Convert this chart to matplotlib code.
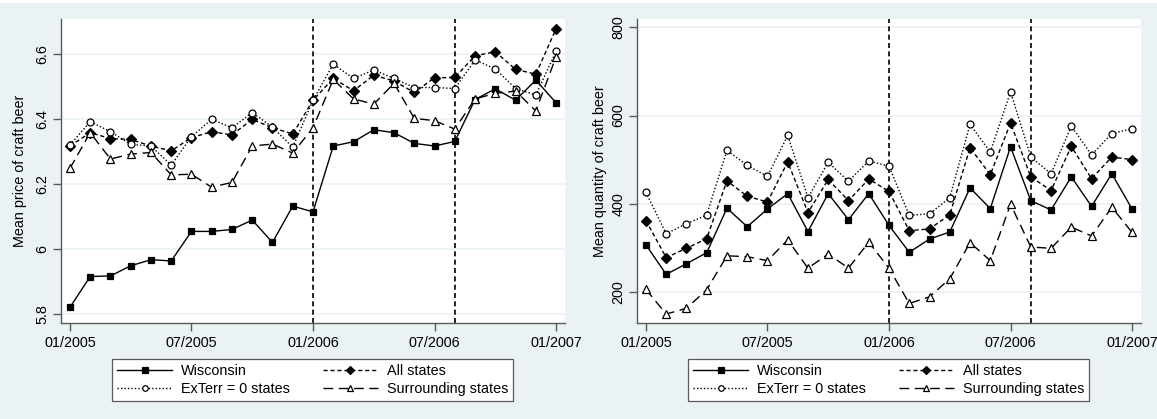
import matplotlib
matplotlib.use("Agg")
import matplotlib.pyplot as plt
from matplotlib.patches import Rectangle
from matplotlib.lines import Line2D

plt.rcParams["font.family"] = ["Liberation Sans", "DejaVu Sans"]

# meses de 01/2005 a 01/2007 (indice 0..24)
months = list(range(25))
tick_pos = [0, 6, 12, 18, 24]
tick_labels = ["01/2005", "07/2005", "01/2006", "07/2006", "01/2007"]
event_months = [12, 19]

# preço médio
price_wi = [5.82, 5.915, 5.917, 5.948, 5.967, 5.963, 6.054, 6.054, 6.06, 6.089,
            6.02, 6.132, 6.114, 6.317, 6.33, 6.367, 6.358, 6.325, 6.317, 6.331,
            6.46, 6.493, 6.458, 6.52, 6.45]
price_all = [6.317, 6.358, 6.34, 6.337, 6.317, 6.302, 6.343, 6.361, 6.351, 6.399,
             6.373, 6.354, 6.458, 6.525, 6.487, 6.535, 6.517, 6.482, 6.527, 6.528,
             6.595, 6.607, 6.553, 6.538, 6.678]
price_ext = [6.32, 6.392, 6.361, 6.322, 6.317, 6.258, 6.346, 6.399, 6.373, 6.42,
             6.375, 6.313, 6.458, 6.569, 6.525, 6.551, 6.525, 6.497, 6.497, 6.494,
             6.582, 6.554, 6.494, 6.474, 6.609]
price_sur = [6.248, 6.358, 6.277, 6.292, 6.297, 6.228, 6.23, 6.19, 6.205, 6.317,
             6.323, 6.295, 6.373, 6.522, 6.462, 6.446, 6.51, 6.402, 6.395, 6.369,
             6.462, 6.479, 6.486, 6.425, 6.592]

# quantidade média
qty_wi = [307, 240, 264, 289, 390, 348, 388, 423, 337, 423,
          364, 423, 351, 290, 320, 336, 436, 389, 529, 407,
          386, 461, 394, 468, 388]
qty_all = [362, 278, 299, 321, 452, 417, 404, 495, 380, 455,
           407, 456, 428, 339, 343, 375, 527, 466, 583, 461,
           430, 530, 457, 506, 500]
qty_ext = [426, 332, 355, 374, 521, 487, 462, 555, 414, 494,
           451, 497, 485, 374, 377, 414, 580, 517, 654, 506,
           468, 576, 511, 559, 570]
qty_sur = [206, 150, 163, 205, 282, 280, 271, 318, 254, 286,
           254, 313, 254, 174, 189, 230, 312, 271, 399, 302,
           299, 347, 327, 392, 335]

bg = "#EAF2F3"
axis_gray = "#5a5a5a"
fs = 10.4

W, H = 1157, 419
fig = plt.figure(figsize=(W / 100, H / 100), dpi=100, facecolor=bg)
fig.add_artist(Rectangle((0, 1 - 3 / H), 1, 3 / H, transform=fig.transFigure,
                         facecolor="white", edgecolor="none"))

ax_p = fig.add_axes([61 / W, 1 - 323 / H, 504 / W, 304 / H])
ax_q = fig.add_axes([637 / W, 1 - 323 / H, 504 / W, 304 / H])

series_style = [
    dict(label="Wisconsin", ls="-", marker="s", ms=5, mfc="black"),
    dict(label="All states", ls=(0, (3, 2)), marker="D", ms=4.6, mfc="black"),
    dict(label="ExTerr = 0 states", ls=(0, (1, 1.5)), marker="o", ms=5, mfc="white"),
    dict(label="Surrounding states", ls=(0, (7, 4)), marker="^", ms=6, mfc="white"),
]


def draw_panel(ax, data, ylim, yticks, ylabel, ylab_x):
    handles = []
    for values, st in zip(data, series_style):
        h, = ax.plot(months, values, color="black", lw=1.0, ls=st["ls"],
                     marker=st["marker"], ms=st["ms"], mfc=st["mfc"],
                     mec="black", mew=0.9, label=st["label"], zorder=3)
        handles.append(h)
    for m in event_months:
        ax.axvline(m, color="black", lw=1.2, ls=(0, (3, 2)), zorder=2)

    ax.set_xlim(-0.44, 24.44)
    ax.set_ylim(*ylim)
    ax.set_xticks(tick_pos)
    ax.set_xticklabels(tick_labels)
    ax.set_yticks(yticks)
    ax.set_yticklabels([f"{v:g}" for v in yticks], rotation=90, va="center")
    ax.set_ylabel(ylabel, fontsize=fs)
    ax.yaxis.set_label_coords(ylab_x, 0.5)

    ax.set_facecolor("white")
    for side in ["top", "right"]:
        ax.spines[side].set_visible(False)
    for side in ["left", "bottom"]:
        ax.spines[side].set_color(axis_gray)
        ax.spines[side].set_linewidth(1.0)
    ax.tick_params(axis="both", colors=axis_gray, labelcolor="black",
                   labelsize=fs, length=5.5, width=1.0, direction="out")
    ax.tick_params(axis="x", pad=4)
    ax.tick_params(axis="y", pad=3)
    ax.grid(axis="y", color=bg, lw=1.2, zorder=0)
    ax.set_axisbelow(True)

    # ordem para preencher as colunas: W, ExTerr | All, Surrounding
    order = [handles[0], handles[2], handles[1], handles[3]]
    x0 = ax.get_position().x0
    leg = ax.legend(order, [h.get_label() for h in order], ncol=2,
                    loc="center", mode="expand",
                    bbox_to_anchor=(x0 + 51 / W, 1 - 403 / H, 401 / W, 46 / H),
                    bbox_transform=fig.transFigure, fontsize=fs,
                    handlelength=3.8, handletextpad=0.6, labelspacing=0.28,
                    borderpad=0.35, fancybox=False, framealpha=1,
                    edgecolor=axis_gray, borderaxespad=0)
    leg.get_frame().set_linewidth(0.9)
    for lh in leg.legend_handles:
        lh.set_markersize(4)


draw_panel(ax_p, [price_wi, price_all, price_ext, price_sur],
           (5.772, 6.708), [5.8, 6.0, 6.2, 6.4, 6.6],
           "Mean price of craft beer", -0.068)
draw_panel(ax_q, [qty_wi, qty_all, qty_ext, qty_sur],
           (129.7, 818.8), [200, 400, 600, 800],
           "Mean quantity of craft beer", -0.06)

fig.savefig("out.png", dpi=100, facecolor=bg)
